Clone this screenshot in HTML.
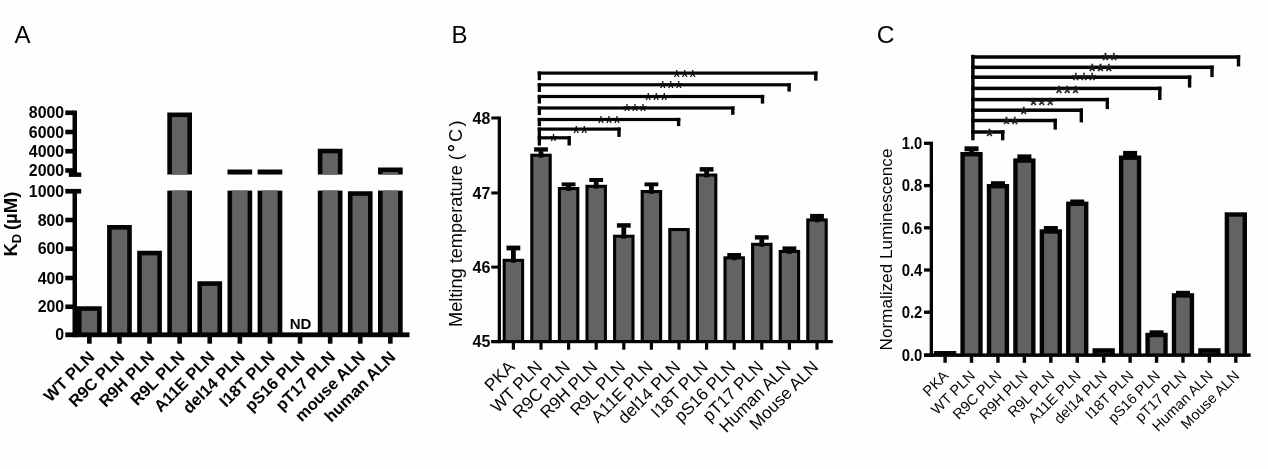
<!DOCTYPE html>
<html lang="en">
<head>
<meta charset="utf-8">
<title>Figure: PLN / ALN variants - KD, melting temperature, normalized luminescence</title>
<style>
html,body{margin:0;padding:0;background:#fefefe;}
body{width:1268px;height:469px;overflow:hidden;}
svg{display:block;will-change:transform;font-family:"Liberation Sans",Arial,Helvetica,sans-serif;}
</style>
</head>
<body>
<svg width="1268" height="469" viewBox="0 0 1268 469">
<rect width="1268" height="469" fill="#fefefe"/>
<text x="14.60" y="42.80" font-size="24" text-anchor="start" fill="#060303">A</text>
<text x="451.40" y="42.70" font-size="24" text-anchor="start" fill="#060303">B</text>
<text x="876.80" y="42.80" font-size="24.6" text-anchor="start" fill="#060303">C</text>
<rect x="72.50" y="110.50" width="4.50" height="65.50" fill="#060303"/>
<rect x="65.30" y="110.45" width="8.20" height="4.60" fill="#060303"/>
<rect x="65.30" y="129.70" width="8.20" height="4.60" fill="#060303"/>
<rect x="65.30" y="148.95" width="8.20" height="4.60" fill="#060303"/>
<rect x="65.30" y="168.20" width="8.20" height="4.60" fill="#060303"/>
<rect x="68.80" y="172.50" width="12.50" height="4.40" fill="#060303"/>
<rect x="72.50" y="189.00" width="4.50" height="148.20" fill="#060303"/>
<rect x="65.30" y="188.90" width="15.90" height="4.70" fill="#060303"/>
<rect x="65.30" y="217.70" width="8.20" height="4.60" fill="#060303"/>
<rect x="65.30" y="246.45" width="8.20" height="4.60" fill="#060303"/>
<rect x="65.30" y="275.70" width="8.20" height="4.60" fill="#060303"/>
<rect x="65.30" y="304.45" width="8.20" height="4.60" fill="#060303"/>
<rect x="65.30" y="332.40" width="344.20" height="4.80" fill="#060303"/>
<text x="64.20" y="118.40" font-size="15.9" font-weight="700" text-anchor="end" fill="#060303">8000</text>
<text x="64.20" y="137.65" font-size="15.9" font-weight="700" text-anchor="end" fill="#060303">6000</text>
<text x="64.20" y="156.90" font-size="15.9" font-weight="700" text-anchor="end" fill="#060303">4000</text>
<text x="64.20" y="176.15" font-size="15.9" font-weight="700" text-anchor="end" fill="#060303">2000</text>
<text x="64.20" y="196.90" font-size="15.9" font-weight="700" text-anchor="end" fill="#060303">1000</text>
<text x="64.20" y="225.65" font-size="15.9" font-weight="700" text-anchor="end" fill="#060303">800</text>
<text x="64.20" y="254.40" font-size="15.9" font-weight="700" text-anchor="end" fill="#060303">600</text>
<text x="64.20" y="283.65" font-size="15.9" font-weight="700" text-anchor="end" fill="#060303">400</text>
<text x="64.20" y="312.40" font-size="15.9" font-weight="700" text-anchor="end" fill="#060303">200</text>
<text x="64.20" y="340.40" font-size="15.9" font-weight="700" text-anchor="end" fill="#060303">0</text>
<rect x="77.00" y="306.25" width="24.70" height="27.15" fill="#060303"/>
<rect x="81.60" y="310.85" width="15.50" height="21.55" fill="#636363"/>
<rect x="87.05" y="336.70" width="4.60" height="7.00" fill="#060303"/>
<text x="95.35" y="358.00" font-size="16.5" font-weight="700" text-anchor="end" fill="#060303" transform="rotate(-45 95.35 358.00)">WT PLN</text>
<rect x="107.10" y="225.00" width="24.70" height="108.40" fill="#060303"/>
<rect x="111.70" y="229.60" width="15.50" height="102.80" fill="#636363"/>
<rect x="117.15" y="336.70" width="4.60" height="7.00" fill="#060303"/>
<text x="125.45" y="358.00" font-size="16.5" font-weight="700" text-anchor="end" fill="#060303" transform="rotate(-45 125.45 358.00)">R9C PLN</text>
<rect x="137.20" y="250.75" width="24.70" height="82.65" fill="#060303"/>
<rect x="141.80" y="255.35" width="15.50" height="77.05" fill="#636363"/>
<rect x="147.25" y="336.70" width="4.60" height="7.00" fill="#060303"/>
<text x="155.55" y="358.00" font-size="16.5" font-weight="700" text-anchor="end" fill="#060303" transform="rotate(-45 155.55 358.00)">R9H PLN</text>
<rect x="167.30" y="190.60" width="24.70" height="142.80" fill="#060303"/>
<rect x="171.90" y="190.60" width="15.50" height="141.80" fill="#636363"/>
<rect x="167.30" y="112.50" width="24.70" height="62.00" fill="#060303"/>
<rect x="171.90" y="117.10" width="15.50" height="57.40" fill="#636363"/>
<rect x="177.35" y="336.70" width="4.60" height="7.00" fill="#060303"/>
<text x="185.65" y="358.00" font-size="16.5" font-weight="700" text-anchor="end" fill="#060303" transform="rotate(-45 185.65 358.00)">R9L PLN</text>
<rect x="197.40" y="281.25" width="24.70" height="52.15" fill="#060303"/>
<rect x="202.00" y="285.85" width="15.50" height="46.55" fill="#636363"/>
<rect x="207.45" y="336.70" width="4.60" height="7.00" fill="#060303"/>
<text x="215.75" y="358.00" font-size="16.5" font-weight="700" text-anchor="end" fill="#060303" transform="rotate(-45 215.75 358.00)">A11E PLN</text>
<rect x="227.50" y="190.60" width="24.70" height="142.80" fill="#060303"/>
<rect x="232.10" y="190.60" width="15.50" height="141.80" fill="#636363"/>
<rect x="227.50" y="169.50" width="24.70" height="5.00" fill="#060303"/>
<rect x="232.10" y="174.10" width="15.50" height="0.40" fill="#636363"/>
<rect x="237.55" y="336.70" width="4.60" height="7.00" fill="#060303"/>
<text x="245.85" y="358.00" font-size="16.5" font-weight="700" text-anchor="end" fill="#060303" transform="rotate(-45 245.85 358.00)">del14 PLN</text>
<rect x="257.60" y="190.60" width="24.70" height="142.80" fill="#060303"/>
<rect x="262.20" y="190.60" width="15.50" height="141.80" fill="#636363"/>
<rect x="257.60" y="169.50" width="24.70" height="5.00" fill="#060303"/>
<rect x="262.20" y="174.10" width="15.50" height="0.40" fill="#636363"/>
<rect x="267.65" y="336.70" width="4.60" height="7.00" fill="#060303"/>
<text x="275.95" y="358.00" font-size="16.5" font-weight="700" text-anchor="end" fill="#060303" transform="rotate(-45 275.95 358.00)">I18T PLN</text>
<rect x="297.75" y="336.70" width="4.60" height="7.00" fill="#060303"/>
<text x="306.05" y="358.00" font-size="16.5" font-weight="700" text-anchor="end" fill="#060303" transform="rotate(-45 306.05 358.00)">pS16 PLN</text>
<rect x="317.80" y="190.60" width="24.70" height="142.80" fill="#060303"/>
<rect x="322.40" y="190.60" width="15.50" height="141.80" fill="#636363"/>
<rect x="317.80" y="148.75" width="24.70" height="25.75" fill="#060303"/>
<rect x="322.40" y="153.35" width="15.50" height="21.15" fill="#636363"/>
<rect x="327.85" y="336.70" width="4.60" height="7.00" fill="#060303"/>
<text x="336.15" y="358.00" font-size="16.5" font-weight="700" text-anchor="end" fill="#060303" transform="rotate(-45 336.15 358.00)">pT17 PLN</text>
<rect x="347.90" y="191.25" width="24.70" height="142.15" fill="#060303"/>
<rect x="352.50" y="195.85" width="15.50" height="136.55" fill="#636363"/>
<rect x="357.95" y="336.70" width="4.60" height="7.00" fill="#060303"/>
<text x="366.25" y="358.00" font-size="16.5" font-weight="700" text-anchor="end" fill="#060303" transform="rotate(-45 366.25 358.00)">mouse ALN</text>
<rect x="378.00" y="190.60" width="24.70" height="142.80" fill="#060303"/>
<rect x="382.60" y="190.60" width="15.50" height="141.80" fill="#636363"/>
<rect x="378.00" y="167.50" width="24.70" height="7.00" fill="#060303"/>
<rect x="382.60" y="172.10" width="15.50" height="2.40" fill="#636363"/>
<rect x="388.05" y="336.70" width="4.60" height="7.00" fill="#060303"/>
<text x="396.35" y="358.00" font-size="16.5" font-weight="700" text-anchor="end" fill="#060303" transform="rotate(-45 396.35 358.00)">human ALN</text>
<text x="300.60" y="328.90" font-size="15" font-weight="700" text-anchor="middle" fill="#060303">ND</text>
<text transform="translate(17.3 256.6) rotate(-90)" font-size="18.5" font-weight="700" fill="#060303">K<tspan font-size="13" dy="3.6">D</tspan><tspan dy="-3.6" dx="-1.4"> (µM)</tspan></text>
<rect x="497.70" y="116.50" width="3.30" height="226.70" fill="#060303"/>
<rect x="491.30" y="116.50" width="7.40" height="3.00" fill="#060303"/>
<text x="490.30" y="123.70" font-size="16.0" font-weight="700" text-anchor="end" fill="#060303">48</text>
<rect x="491.30" y="191.45" width="7.40" height="3.00" fill="#060303"/>
<text x="490.30" y="198.65" font-size="16.0" font-weight="700" text-anchor="end" fill="#060303">47</text>
<rect x="491.30" y="265.60" width="7.40" height="3.00" fill="#060303"/>
<text x="490.30" y="272.80" font-size="16.0" font-weight="700" text-anchor="end" fill="#060303">46</text>
<rect x="491.30" y="340.10" width="7.40" height="3.00" fill="#060303"/>
<text x="490.30" y="347.30" font-size="16.0" font-weight="700" text-anchor="end" fill="#060303">45</text>
<rect x="491.30" y="340.00" width="341.50" height="3.20" fill="#060303"/>
<rect x="502.65" y="258.80" width="21.50" height="82.20" fill="#060303"/>
<rect x="505.75" y="261.90" width="15.30" height="78.10" fill="#636363"/>
<rect x="506.50" y="245.60" width="13.80" height="4.80" fill="#060303"/>
<rect x="511.00" y="249.90" width="4.80" height="12.80" fill="#060303"/>
<rect x="511.80" y="342.70" width="3.20" height="7.00" fill="#060303"/>
<text x="515.80" y="367.90" font-size="17.2" text-anchor="end" fill="#060303" transform="rotate(-45 515.80 367.90)">PKA</text>
<rect x="530.25" y="153.70" width="21.50" height="187.30" fill="#060303"/>
<rect x="533.35" y="156.80" width="15.30" height="183.20" fill="#636363"/>
<rect x="534.10" y="147.30" width="13.80" height="4.30" fill="#060303"/>
<rect x="538.60" y="151.10" width="4.80" height="6.50" fill="#060303"/>
<rect x="539.40" y="342.70" width="3.20" height="7.00" fill="#060303"/>
<text x="543.40" y="367.90" font-size="17.2" text-anchor="end" fill="#060303" transform="rotate(-45 543.40 367.90)">WT PLN</text>
<rect x="557.85" y="187.00" width="21.50" height="154.00" fill="#060303"/>
<rect x="560.95" y="190.10" width="15.30" height="149.90" fill="#636363"/>
<rect x="561.70" y="182.40" width="13.80" height="3.90" fill="#060303"/>
<rect x="566.20" y="185.80" width="4.80" height="5.10" fill="#060303"/>
<rect x="567.00" y="342.70" width="3.20" height="7.00" fill="#060303"/>
<text x="571.00" y="367.90" font-size="17.2" text-anchor="end" fill="#060303" transform="rotate(-45 571.00 367.90)">R9C PLN</text>
<rect x="585.45" y="184.80" width="21.50" height="156.20" fill="#060303"/>
<rect x="588.55" y="187.90" width="15.30" height="152.10" fill="#636363"/>
<rect x="589.30" y="178.00" width="13.80" height="4.00" fill="#060303"/>
<rect x="593.80" y="181.50" width="4.80" height="7.20" fill="#060303"/>
<rect x="594.60" y="342.70" width="3.20" height="7.00" fill="#060303"/>
<text x="598.60" y="367.90" font-size="17.2" text-anchor="end" fill="#060303" transform="rotate(-45 598.60 367.90)">R9H PLN</text>
<rect x="613.05" y="234.70" width="21.50" height="106.30" fill="#060303"/>
<rect x="616.15" y="237.80" width="15.30" height="102.20" fill="#636363"/>
<rect x="616.90" y="223.20" width="13.80" height="4.50" fill="#060303"/>
<rect x="621.40" y="227.20" width="4.80" height="11.40" fill="#060303"/>
<rect x="622.20" y="342.70" width="3.20" height="7.00" fill="#060303"/>
<text x="626.20" y="367.90" font-size="17.2" text-anchor="end" fill="#060303" transform="rotate(-45 626.20 367.90)">R9L PLN</text>
<rect x="640.65" y="190.00" width="21.50" height="151.00" fill="#060303"/>
<rect x="643.75" y="193.10" width="15.30" height="146.90" fill="#636363"/>
<rect x="644.50" y="182.40" width="13.80" height="3.90" fill="#060303"/>
<rect x="649.00" y="185.80" width="4.80" height="8.10" fill="#060303"/>
<rect x="649.80" y="342.70" width="3.20" height="7.00" fill="#060303"/>
<text x="653.80" y="367.90" font-size="17.2" text-anchor="end" fill="#060303" transform="rotate(-45 653.80 367.90)">A11E PLN</text>
<rect x="668.25" y="228.00" width="21.50" height="113.00" fill="#060303"/>
<rect x="671.35" y="231.10" width="15.30" height="108.90" fill="#636363"/>
<rect x="677.40" y="342.70" width="3.20" height="7.00" fill="#060303"/>
<text x="681.40" y="367.90" font-size="17.2" text-anchor="end" fill="#060303" transform="rotate(-45 681.40 367.90)">del14 PLN</text>
<rect x="695.85" y="173.50" width="21.50" height="167.50" fill="#060303"/>
<rect x="698.95" y="176.60" width="15.30" height="163.40" fill="#636363"/>
<rect x="699.70" y="167.10" width="13.80" height="4.50" fill="#060303"/>
<rect x="704.20" y="171.10" width="4.80" height="6.30" fill="#060303"/>
<rect x="705.00" y="342.70" width="3.20" height="7.00" fill="#060303"/>
<text x="709.00" y="367.90" font-size="17.2" text-anchor="end" fill="#060303" transform="rotate(-45 709.00 367.90)">I18T PLN</text>
<rect x="723.45" y="256.30" width="21.50" height="84.70" fill="#060303"/>
<rect x="726.55" y="259.40" width="15.30" height="80.60" fill="#636363"/>
<rect x="727.30" y="253.00" width="13.80" height="4.50" fill="#060303"/>
<rect x="731.80" y="257.00" width="4.80" height="3.20" fill="#060303"/>
<rect x="732.60" y="342.70" width="3.20" height="7.00" fill="#060303"/>
<text x="736.60" y="367.90" font-size="17.2" text-anchor="end" fill="#060303" transform="rotate(-45 736.60 367.90)">pS16 PLN</text>
<rect x="751.05" y="242.80" width="21.50" height="98.20" fill="#060303"/>
<rect x="754.15" y="245.90" width="15.30" height="94.10" fill="#636363"/>
<rect x="754.90" y="235.20" width="13.80" height="4.40" fill="#060303"/>
<rect x="759.40" y="239.10" width="4.80" height="7.60" fill="#060303"/>
<rect x="760.20" y="342.70" width="3.20" height="7.00" fill="#060303"/>
<text x="764.20" y="367.90" font-size="17.2" text-anchor="end" fill="#060303" transform="rotate(-45 764.20 367.90)">pT17 PLN</text>
<rect x="778.65" y="249.90" width="21.50" height="91.10" fill="#060303"/>
<rect x="781.75" y="253.00" width="15.30" height="87.00" fill="#636363"/>
<rect x="782.50" y="246.40" width="13.80" height="4.40" fill="#060303"/>
<rect x="787.00" y="250.30" width="4.80" height="3.50" fill="#060303"/>
<rect x="787.80" y="342.70" width="3.20" height="7.00" fill="#060303"/>
<text x="791.80" y="367.90" font-size="17.2" text-anchor="end" fill="#060303" transform="rotate(-45 791.80 367.90)">Human ALN</text>
<rect x="806.25" y="218.40" width="21.50" height="122.60" fill="#060303"/>
<rect x="809.35" y="221.50" width="15.30" height="118.50" fill="#636363"/>
<rect x="810.10" y="213.90" width="13.80" height="5.00" fill="#060303"/>
<rect x="814.60" y="218.40" width="4.80" height="3.90" fill="#060303"/>
<rect x="815.40" y="342.70" width="3.20" height="7.00" fill="#060303"/>
<text x="819.40" y="367.90" font-size="17.2" text-anchor="end" fill="#060303" transform="rotate(-45 819.40 367.90)">Mouse ALN</text>
<rect x="537.70" y="71.50" width="279.80" height="3.20" fill="#060303"/>
<rect x="537.70" y="71.50" width="3.30" height="8.70" fill="#060303"/>
<rect x="814.10" y="71.50" width="3.40" height="9.20" fill="#060303"/>
<text x="684.80" y="83.50" font-size="20.5" text-anchor="middle" fill="#060303">***</text>
<rect x="537.70" y="83.20" width="253.10" height="3.20" fill="#060303"/>
<rect x="537.70" y="83.20" width="3.30" height="8.70" fill="#060303"/>
<rect x="787.40" y="83.20" width="3.40" height="8.40" fill="#060303"/>
<text x="670.80" y="95.20" font-size="20.5" text-anchor="middle" fill="#060303">***</text>
<rect x="537.70" y="94.90" width="226.50" height="3.20" fill="#060303"/>
<rect x="537.70" y="94.90" width="3.30" height="8.70" fill="#060303"/>
<rect x="760.80" y="94.90" width="3.40" height="8.70" fill="#060303"/>
<text x="656.30" y="106.90" font-size="20.5" text-anchor="middle" fill="#060303">***</text>
<rect x="537.70" y="106.40" width="196.80" height="3.20" fill="#060303"/>
<rect x="537.70" y="106.40" width="3.30" height="8.70" fill="#060303"/>
<rect x="731.10" y="106.40" width="3.40" height="8.40" fill="#060303"/>
<text x="635.00" y="118.40" font-size="20.5" text-anchor="middle" fill="#060303">***</text>
<rect x="537.70" y="117.90" width="142.60" height="3.20" fill="#060303"/>
<rect x="537.70" y="117.90" width="3.30" height="8.30" fill="#060303"/>
<rect x="676.90" y="117.90" width="3.40" height="8.20" fill="#060303"/>
<text x="609.00" y="129.90" font-size="20.5" text-anchor="middle" fill="#060303">***</text>
<rect x="537.70" y="127.50" width="83.00" height="3.20" fill="#060303"/>
<rect x="537.70" y="127.50" width="3.30" height="9.50" fill="#060303"/>
<rect x="617.30" y="127.50" width="3.40" height="9.40" fill="#060303"/>
<text x="580.30" y="139.50" font-size="20.5" text-anchor="middle" fill="#060303">**</text>
<rect x="537.70" y="136.20" width="33.20" height="3.20" fill="#060303"/>
<rect x="537.70" y="136.20" width="3.30" height="9.40" fill="#060303"/>
<rect x="567.50" y="136.20" width="3.40" height="9.30" fill="#060303"/>
<text x="553.50" y="148.20" font-size="20.5" text-anchor="middle" fill="#060303">*</text>
<text transform="translate(462.3 327) rotate(-90)" font-size="18.2" fill="#060303">Melting temperature <tspan letter-spacing="2.2">(<tspan font-weight="700" font-size="19.5">°</tspan>C)</tspan></text>
<rect x="929.70" y="141.70" width="3.30" height="215.20" fill="#060303"/>
<rect x="924.00" y="141.65" width="6.70" height="3.30" fill="#060303"/>
<text transform="translate(922.4 149.05) scale(0.93 1)" font-size="16" font-weight="700" text-anchor="end" fill="#060303">1.0</text>
<rect x="924.00" y="183.95" width="6.70" height="3.30" fill="#060303"/>
<text transform="translate(922.4 191.35) scale(0.93 1)" font-size="16" font-weight="700" text-anchor="end" fill="#060303">0.8</text>
<rect x="924.00" y="226.15" width="6.70" height="3.30" fill="#060303"/>
<text transform="translate(922.4 233.55) scale(0.93 1)" font-size="16" font-weight="700" text-anchor="end" fill="#060303">0.6</text>
<rect x="924.00" y="268.35" width="6.70" height="3.30" fill="#060303"/>
<text transform="translate(922.4 275.75) scale(0.93 1)" font-size="16" font-weight="700" text-anchor="end" fill="#060303">0.4</text>
<rect x="924.00" y="310.55" width="6.70" height="3.30" fill="#060303"/>
<text transform="translate(922.4 317.95) scale(0.93 1)" font-size="16" font-weight="700" text-anchor="end" fill="#060303">0.2</text>
<rect x="924.00" y="353.55" width="6.70" height="3.30" fill="#060303"/>
<text transform="translate(922.4 360.95) scale(0.93 1)" font-size="16" font-weight="700" text-anchor="end" fill="#060303">0.0</text>
<rect x="924.00" y="353.40" width="326.70" height="3.50" fill="#060303"/>
<rect x="933.95" y="351.00" width="22.30" height="3.40" fill="#060303"/>
<rect x="943.40" y="356.40" width="3.40" height="6.40" fill="#060303"/>
<text x="949.50" y="376.60" font-size="14.6" text-anchor="end" fill="#060303" transform="rotate(-45 949.50 376.60)">PKA</text>
<rect x="960.38" y="152.00" width="22.30" height="202.40" fill="#060303"/>
<rect x="964.78" y="156.40" width="13.50" height="197.00" fill="#636363"/>
<rect x="964.53" y="146.30" width="14.00" height="5.00" fill="#060303"/>
<rect x="969.23" y="150.80" width="4.60" height="3.20" fill="#060303"/>
<rect x="969.83" y="356.40" width="3.40" height="6.40" fill="#060303"/>
<text x="975.93" y="376.60" font-size="14.6" text-anchor="end" fill="#060303" transform="rotate(-45 975.93 376.60)">WT PLN</text>
<rect x="986.81" y="184.00" width="22.30" height="170.40" fill="#060303"/>
<rect x="991.21" y="188.40" width="13.50" height="165.00" fill="#636363"/>
<rect x="990.96" y="181.20" width="14.00" height="5.20" fill="#060303"/>
<rect x="996.26" y="356.40" width="3.40" height="6.40" fill="#060303"/>
<text x="1002.36" y="376.60" font-size="14.6" text-anchor="end" fill="#060303" transform="rotate(-45 1002.36 376.60)">R9C PLN</text>
<rect x="1013.24" y="158.40" width="22.30" height="196.00" fill="#060303"/>
<rect x="1017.64" y="162.80" width="13.50" height="190.60" fill="#636363"/>
<rect x="1017.39" y="154.40" width="14.00" height="4.60" fill="#060303"/>
<rect x="1022.09" y="158.50" width="4.60" height="1.90" fill="#060303"/>
<rect x="1022.69" y="356.40" width="3.40" height="6.40" fill="#060303"/>
<text x="1028.79" y="376.60" font-size="14.6" text-anchor="end" fill="#060303" transform="rotate(-45 1028.79 376.60)">R9H PLN</text>
<rect x="1039.67" y="229.30" width="22.30" height="125.10" fill="#060303"/>
<rect x="1044.07" y="233.70" width="13.50" height="119.70" fill="#636363"/>
<rect x="1043.82" y="226.00" width="14.00" height="6.80" fill="#060303"/>
<rect x="1049.12" y="356.40" width="3.40" height="6.40" fill="#060303"/>
<text x="1055.22" y="376.60" font-size="14.6" text-anchor="end" fill="#060303" transform="rotate(-45 1055.22 376.60)">R9L PLN</text>
<rect x="1066.10" y="201.60" width="22.30" height="152.80" fill="#060303"/>
<rect x="1070.50" y="206.00" width="13.50" height="147.40" fill="#636363"/>
<rect x="1070.25" y="199.50" width="14.00" height="4.50" fill="#060303"/>
<rect x="1075.55" y="356.40" width="3.40" height="6.40" fill="#060303"/>
<text x="1081.65" y="376.60" font-size="14.6" text-anchor="end" fill="#060303" transform="rotate(-45 1081.65 376.60)">A11E PLN</text>
<rect x="1092.53" y="348.20" width="22.30" height="6.20" fill="#060303"/>
<rect x="1096.93" y="352.60" width="13.50" height="0.80" fill="#2c2c2c"/>
<rect x="1101.98" y="356.40" width="3.40" height="6.40" fill="#060303"/>
<text x="1108.08" y="376.60" font-size="14.6" text-anchor="end" fill="#060303" transform="rotate(-45 1108.08 376.60)">del14 PLN</text>
<rect x="1118.96" y="155.50" width="22.30" height="198.90" fill="#060303"/>
<rect x="1123.36" y="159.90" width="13.50" height="193.50" fill="#636363"/>
<rect x="1123.11" y="150.90" width="14.00" height="5.10" fill="#060303"/>
<rect x="1127.81" y="155.50" width="4.60" height="2.00" fill="#060303"/>
<rect x="1128.41" y="356.40" width="3.40" height="6.40" fill="#060303"/>
<text x="1134.51" y="376.60" font-size="14.6" text-anchor="end" fill="#060303" transform="rotate(-45 1134.51 376.60)">I18T PLN</text>
<rect x="1145.39" y="332.80" width="22.30" height="21.60" fill="#060303"/>
<rect x="1149.79" y="337.20" width="13.50" height="16.20" fill="#636363"/>
<rect x="1149.54" y="330.30" width="14.00" height="3.70" fill="#060303"/>
<rect x="1154.24" y="333.50" width="4.60" height="1.30" fill="#060303"/>
<rect x="1154.84" y="356.40" width="3.40" height="6.40" fill="#060303"/>
<text x="1160.94" y="376.60" font-size="14.6" text-anchor="end" fill="#060303" transform="rotate(-45 1160.94 376.60)">pS16 PLN</text>
<rect x="1171.82" y="293.20" width="22.30" height="61.20" fill="#060303"/>
<rect x="1176.22" y="297.60" width="13.50" height="55.80" fill="#636363"/>
<rect x="1175.97" y="290.80" width="14.00" height="5.60" fill="#060303"/>
<rect x="1181.27" y="356.40" width="3.40" height="6.40" fill="#060303"/>
<text x="1187.37" y="376.60" font-size="14.6" text-anchor="end" fill="#060303" transform="rotate(-45 1187.37 376.60)">pT17 PLN</text>
<rect x="1198.25" y="348.20" width="22.30" height="6.20" fill="#060303"/>
<rect x="1202.65" y="352.60" width="13.50" height="0.80" fill="#2c2c2c"/>
<rect x="1207.70" y="356.40" width="3.40" height="6.40" fill="#060303"/>
<text x="1213.80" y="376.60" font-size="14.6" text-anchor="end" fill="#060303" transform="rotate(-45 1213.80 376.60)">Human ALN</text>
<rect x="1224.68" y="212.30" width="22.30" height="142.10" fill="#060303"/>
<rect x="1229.08" y="216.70" width="13.50" height="136.70" fill="#636363"/>
<rect x="1234.13" y="356.40" width="3.40" height="6.40" fill="#060303"/>
<text x="1240.23" y="376.60" font-size="14.6" text-anchor="end" fill="#060303" transform="rotate(-45 1240.23 376.60)">Mouse ALN</text>
<rect x="971.20" y="54.80" width="3.40" height="85.50" fill="#060303"/>
<rect x="971.20" y="55.25" width="269.00" height="3.50" fill="#060303"/>
<rect x="1236.80" y="55.25" width="3.40" height="11.15" fill="#060303"/>
<text x="1109.70" y="66.50" font-size="20.5" text-anchor="middle" fill="#1c1c1c" letter-spacing="0.3" stroke="#1c1c1c" stroke-width="0.35">**</text>
<rect x="971.20" y="65.55" width="242.50" height="3.50" fill="#060303"/>
<rect x="1210.30" y="65.55" width="3.40" height="11.55" fill="#060303"/>
<text x="1100.60" y="78.00" font-size="20.5" text-anchor="middle" fill="#1c1c1c" letter-spacing="0.3" stroke="#1c1c1c" stroke-width="0.35">***</text>
<rect x="971.20" y="75.45" width="220.10" height="3.50" fill="#060303"/>
<rect x="1187.90" y="75.45" width="3.40" height="12.15" fill="#060303"/>
<text x="1084.10" y="87.00" font-size="20.5" text-anchor="middle" fill="#1c1c1c" letter-spacing="0.3" stroke="#1c1c1c" stroke-width="0.35">***</text>
<rect x="971.20" y="86.65" width="190.30" height="3.50" fill="#060303"/>
<rect x="1158.10" y="86.65" width="3.40" height="13.35" fill="#060303"/>
<text x="1067.40" y="100.30" font-size="20.5" text-anchor="middle" fill="#1c1c1c" letter-spacing="0.3" stroke="#1c1c1c" stroke-width="0.35">***</text>
<rect x="971.20" y="97.85" width="137.80" height="3.50" fill="#060303"/>
<rect x="1105.60" y="97.85" width="3.40" height="11.25" fill="#060303"/>
<text x="1042.00" y="112.10" font-size="20.5" text-anchor="middle" fill="#1c1c1c" letter-spacing="0.3" stroke="#1c1c1c" stroke-width="0.35">***</text>
<rect x="971.20" y="108.45" width="111.80" height="3.50" fill="#060303"/>
<rect x="1079.60" y="108.45" width="3.40" height="13.95" fill="#060303"/>
<text x="1024.00" y="120.50" font-size="20.5" text-anchor="middle" fill="#1c1c1c" letter-spacing="0.3" stroke="#1c1c1c" stroke-width="0.35">*</text>
<rect x="971.20" y="118.75" width="85.70" height="3.50" fill="#060303"/>
<rect x="1053.50" y="118.75" width="3.40" height="10.85" fill="#060303"/>
<text x="1010.80" y="131.30" font-size="20.5" text-anchor="middle" fill="#1c1c1c" letter-spacing="0.3" stroke="#1c1c1c" stroke-width="0.35">**</text>
<rect x="971.20" y="130.25" width="33.20" height="3.50" fill="#060303"/>
<rect x="1001.00" y="130.25" width="3.40" height="10.05" fill="#060303"/>
<text x="989.70" y="142.50" font-size="20.5" text-anchor="middle" fill="#1c1c1c" letter-spacing="0.3" stroke="#1c1c1c" stroke-width="0.35">*</text>
<text transform="translate(892.1 350.5) rotate(-90)" font-size="17.15" fill="#060303">Normalized Luminescence</text>
</svg>
</body>
</html>
